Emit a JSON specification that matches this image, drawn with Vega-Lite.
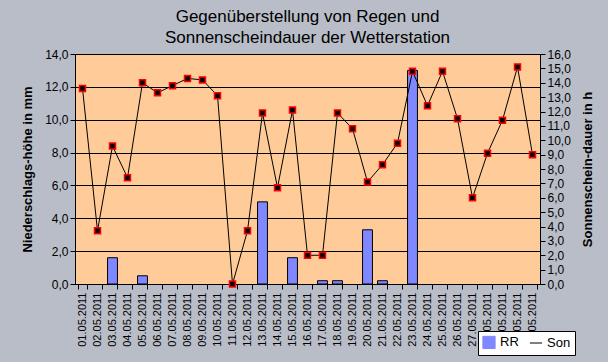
{
  "$schema": "https://vega.github.io/schema/vega-lite/v6.json",
  "width": 465,
  "height": 230,
  "autosize": {"type": "none"},
  "padding": {"left": 75, "top": 54, "right": 68, "bottom": 78},
  "background": "#b9bdc7",
  "title": {
    "text": ["Gegenüberstellung von Regen und", "Sonnenscheindauer der Wetterstation"],
    "font": "Liberation Sans",
    "fontSize": 17,
    "fontWeight": "normal",
    "color": "black",
    "lineHeight": 21,
    "offset": 1,
    "anchor": "middle"
  },
  "config": {
    "view": {"fill": "#FFCC99", "stroke": "black", "strokeWidth": 1},
    "axis": {
      "labelFont": "Liberation Sans",
      "labelFontSize": 12,
      "labelColor": "black",
      "titleFont": "Liberation Sans",
      "titleFontSize": 13,
      "titleFontWeight": "bold",
      "titleColor": "black",
      "domainColor": "black",
      "tickColor": "black",
      "tickSize": 5,
      "labelOverlap": false
    },
    "legend": {"labelFont": "Liberation Sans", "labelFontSize": 13, "labelColor": "black"}
  },
  "data": {
    "values": [
      {"date": "01.05.2011", "rain": 0, "sun": 13.6},
      {"date": "02.05.2011", "rain": 0, "sun": 3.7},
      {"date": "03.05.2011", "rain": 1.6, "sun": 9.6},
      {"date": "04.05.2011", "rain": 0, "sun": 7.4},
      {"date": "05.05.2011", "rain": 0.5, "sun": 14.0},
      {"date": "06.05.2011", "rain": 0, "sun": 13.3},
      {"date": "07.05.2011", "rain": 0, "sun": 13.8},
      {"date": "08.05.2011", "rain": 0, "sun": 14.3},
      {"date": "09.05.2011", "rain": 0, "sun": 14.2},
      {"date": "10.05.2011", "rain": 0, "sun": 13.1},
      {"date": "11.05.2011", "rain": 0, "sun": 0.0},
      {"date": "12.05.2011", "rain": 0, "sun": 3.7},
      {"date": "13.05.2011", "rain": 5.0, "sun": 11.9},
      {"date": "14.05.2011", "rain": 0, "sun": 6.7},
      {"date": "15.05.2011", "rain": 1.6, "sun": 12.1},
      {"date": "16.05.2011", "rain": 0, "sun": 2.0},
      {"date": "17.05.2011", "rain": 0.2, "sun": 2.0},
      {"date": "18.05.2011", "rain": 0.2, "sun": 11.9},
      {"date": "19.05.2011", "rain": 0, "sun": 10.8},
      {"date": "20.05.2011", "rain": 3.3, "sun": 7.1},
      {"date": "21.05.2011", "rain": 0.2, "sun": 8.3},
      {"date": "22.05.2011", "rain": 0, "sun": 9.8},
      {"date": "23.05.2011", "rain": 13.0, "sun": 14.8},
      {"date": "24.05.2011", "rain": 0, "sun": 12.4},
      {"date": "25.05.2011", "rain": 0, "sun": 14.8},
      {"date": "26.05.2011", "rain": 0, "sun": 11.5},
      {"date": "27.05.2011", "rain": 0, "sun": 6.0},
      {"date": "28.05.2011", "rain": 0, "sun": 9.1},
      {"date": "29.05.2011", "rain": 0, "sun": 11.4},
      {"date": "30.05.2011", "rain": 0, "sun": 15.1},
      {"date": "31.05.2011", "rain": 0, "sun": 9.0}
    ]
  },
  "encoding": {
    "x": {
      "field": "date",
      "type": "ordinal",
      "sort": "ascending",
      "scale": {"paddingInner": 0.34, "paddingOuter": 0.17},
      "axis": {
        "title": null,
        "labelAngle": 270,
        "labelFontSize": 11,
        "labelPadding": 3,
        "tickBand": "extent"
      }
    }
  },
  "layer": [
    {
      "mark": {"type": "bar", "stroke": "black", "strokeWidth": 1},
      "encoding": {
        "y": {
          "field": "rain",
          "type": "quantitative",
          "scale": {"domain": [0, 14], "nice": false},
          "axis": {
            "orient": "left",
            "title": "Niederschlags-höhe in mm",
            "values": [0, 2, 4, 6, 8, 10, 12, 14],
            "labelExpr": "replace(format(datum.value, '.1f'), '.', ',')",
            "grid": true,
            "gridColor": "black",
            "gridOpacity": 1,
            "titlePadding": 10
          }
        },
        "strokeOpacity": {"condition": {"test": "datum.rain > 0", "value": 1}, "value": 0},
        "color": {
          "datum": "RR",
          "type": "nominal",
          "scale": {"domain": ["RR", "Son"], "range": ["#8088ff", "#000000"]},
          "legend": {
            "title": null,
            "orient": "none",
            "legendX": 403,
            "legendY": 277,
            "direction": "horizontal",
            "fillColor": "white",
            "strokeColor": "black",
            "padding": 4,
            "symbolSize": 150,
            "columnPadding": 8,
            "symbolStrokeColor": "black",
            "symbolStrokeWidth": 1,
            "encode": {
              "symbols": {
                "update": {
                  "shape": {"signal": "datum.value === 'Son' ? 'stroke' : 'square'"},
                  "stroke": {"value": "black"},
                  "strokeWidth": {"value": 1}
                }
              }
            }
          }
        }
      }
    },
    {
      "encoding": {
        "y": {
          "field": "sun",
          "type": "quantitative",
          "scale": {"domain": [0, 16], "nice": false},
          "axis": {
            "orient": "right",
            "title": "Sonnenschein-dauer in h",
            "titleAngle": 270,
            "values": [0, 1, 2, 3, 4, 5, 6, 7, 8, 9, 10, 11, 12, 13, 14, 15, 16],
            "labelExpr": "replace(format(datum.value, '.1f'), '.', ',')",
            "labelOverlap": false,
            "grid": false,
            "titlePadding": 24
          }
        }
      },
      "layer": [
        {
          "mark": {"type": "line", "strokeWidth": 1},
          "encoding": {
            "color": {"datum": "Son", "type": "nominal"}
          }
        },
        {
          "mark": {"type": "point", "shape": "square", "filled": true, "fill": "black", "stroke": "#ff0000", "strokeWidth": 1.5, "size": 36, "opacity": 1}
        }
      ]
    }
  ],
  "resolve": {"scale": {"y": "independent"}}
}
